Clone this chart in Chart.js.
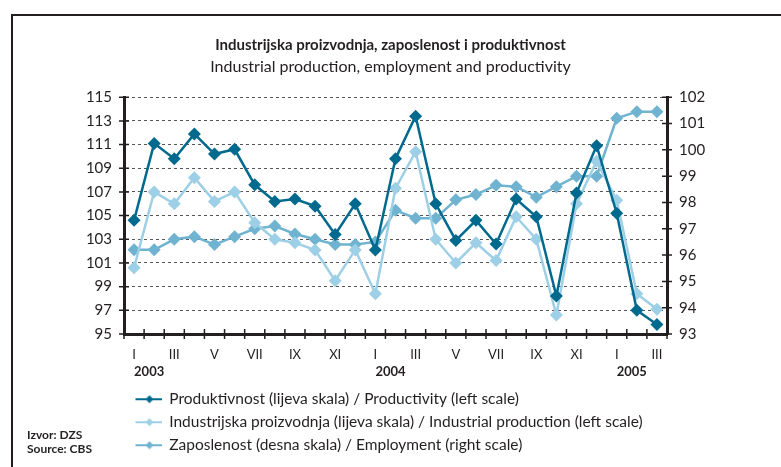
<!DOCTYPE html>
<html>
<head>
<meta charset="utf-8">
<script src="https://cdn.jsdelivr.net/npm/chart.js@4.4.1/dist/chart.umd.min.js"></script>
<style>
  body { margin: 0; background: #fff; }
  #wrap { position: relative; width: 781px; height: 467px; overflow: hidden; }
  #frame { position: absolute; left: 11px; top: 14px; width: 900px; height: 600px;
           border-left: 2.5px solid #231f20; border-top: 2.5px solid #231f20; }
  #src { position: absolute; left: 27px; top: 428px; font: bold 12px Lato, sans-serif;
         color: #231f20; line-height: 14px; }
  canvas { position: absolute; left: 0; top: 0; }
</style>
</head>
<body>
<div id="wrap">
  <div id="frame"></div>
  <canvas id="myChart" width="781" height="467"></canvas>
  <div id="src">Izvor: DZS<br>Source: CBS</div>
</div>
<script>
let months = ['I','II','III','IV','V','VI','VII','VIII','IX','X','XI','XII',
              'I','II','III','IV','V','VI','VII','VIII','IX','X','XI','XII',
              'I','II','III'];
let years = ['2003','','','','','','','','','','','',
             '2004','','','','','','','','','','','',
             '2005','',''];
let productivity = [104.6,111.1,109.8,111.9,110.2,110.6,107.6,106.2,106.4,105.8,103.4,106.0,
                    102.1,109.8,113.4,106.0,102.9,104.6,102.6,106.4,104.9,98.2,106.9,110.9,
                    105.2,97.0,95.8];
let production = [100.6,107.0,106.0,108.2,106.2,107.0,104.4,103.0,102.7,102.1,99.5,102.1,
                  98.4,107.3,110.4,103.0,101.0,102.7,101.2,104.9,103.0,96.6,106.0,109.6,
                  106.3,98.4,97.1];
let employment = [96.2,96.2,96.6,96.7,96.4,96.7,97.0,97.1,96.8,96.6,96.4,96.4,
                  96.5,97.7,97.4,97.4,98.1,98.3,98.65,98.6,98.2,98.6,99.0,99.0,
                  101.2,101.45,101.45];

let ink = '#231f20';
let Colors = ['#006a8e','#9dcfe6','#6fb3d1'];

function legendIcon(color){
  let c = document.createElement('canvas');
  c.width = 30; c.height = 12;
  let g = c.getContext('2d');
  g.strokeStyle = color; g.lineWidth = 2;
  g.beginPath(); g.moveTo(4,6); g.lineTo(30,6); g.stroke();
  g.fillStyle = color;
  g.beginPath(); g.moveTo(18,2); g.lineTo(22,6); g.lineTo(18,10); g.lineTo(14,6); g.closePath(); g.fill();
  return c;
}

let crossTicks = {
  id:'crossTicks',
  afterDraw(chart){
    let ctx = chart.ctx;
    let yl = chart.scales.yL, yr = chart.scales.yR, x = chart.scales.x;
    ctx.save();
    ctx.strokeStyle = ink; ctx.lineWidth = 1.5;
    ctx.beginPath();
    yl.ticks.forEach(t => { let p = yl.getPixelForValue(t.value); ctx.moveTo(yl.right-5,p); ctx.lineTo(yl.right+5,p); });
    yr.ticks.forEach(t => { let p = yr.getPixelForValue(t.value); ctx.moveTo(yr.left-5,p); ctx.lineTo(yr.left+5,p); });
    let step = x.getPixelForValue(1) - x.getPixelForValue(0);
    for (let i = 0; i <= months.length; i++) {
      let p = x.getPixelForValue(0) + (i - 0.5) * step;
      ctx.moveTo(p, x.top-5); ctx.lineTo(p, x.top+5);
    }
    ctx.stroke();
    ctx.restore();
  }
};

let names = ['Produktivnost (lijeva skala) / Productivity (left scale)',
             'Industrijska proizvodnja (lijeva skala) / Industrial production (left scale)',
             'Zaposlenost (desna skala) / Employment (right scale)'];

let myChart = document.getElementById('myChart').getContext('2d');
let chart = new Chart(myChart, {
  type:'line',
  data:{
    labels:months,
    datasets:[{
      label:names[0], data:productivity, yAxisID:'yL',
      borderColor:Colors[0], backgroundColor:Colors[0]
    },{
      label:names[1], data:production, yAxisID:'yL',
      borderColor:Colors[1], backgroundColor:Colors[1]
    },{
      label:names[2], data:employment, yAxisID:'yR',
      borderColor:Colors[2], backgroundColor:Colors[2]
    }]
  },
  options:{
    responsive:false,
    animation:false,
    layout:{ padding:{ top:36, bottom:4, left:0, right:0 } },
    elements:{
      line:{ borderWidth:2.5, tension:0 },
      point:{ pointStyle:'rectRot', radius:6.5, borderWidth:0, hoverRadius:6.5 }
    },
    plugins:{
      title:{
        display:true, text:'Industrijska proizvodnja, zaposlenost i produktivnost',
        color:ink, font:{ family:'Lato', size:15, weight:'bold' }, padding:{ top:0, bottom:3 }
      },
      subtitle:{
        display:true, text:'Industrial production, employment and productivity',
        color:ink, font:{ family:'Lato', size:16 }, padding:{ top:0, bottom:21 }
      },
      legend:{
        position:'bottom', align:'start', fullSize:false,
        labels:{
          color:ink, font:{ family:'Lato', size:15.5 }, padding:7.5,
          usePointStyle:true, pointStyleWidth:30,
          generateLabels(ch){
            return ch.data.datasets.map((d,i) => ({
              text:d.label, pointStyle:legendIcon(Colors[i]), fontColor:ink,
              lineWidth:0, strokeStyle:'transparent', fillStyle:'transparent', datasetIndex:i
            }));
          }
        }
      },
      tooltip:{ enabled:false }
    },
    scales:{
      x:{
        type:'category', offset:true, position:'bottom',
        grid:{ display:false, drawTicks:false },
        border:{ display:true, width:3, color:ink },
        ticks:{ color:ink, font:{ family:'Lato', size:13 }, autoSkip:false, maxRotation:0, padding:13,
          callback:(v,i) => i % 2 === 0 ? months[i] : '' },
        afterFit(s){ s.height = 30; }
      },
      x2:{
        type:'category', offset:true, position:'bottom', labels:years,
        grid:{ display:false, drawTicks:false }, border:{ display:false },
        ticks:{ color:ink, font:{ family:'Lato', size:13, weight:'bold' }, autoSkip:false, maxRotation:0,
          padding:0, align:'start' },
        afterFit(s){ s.height = 20; }
      },
      yL:{
        position:'left', min:95, max:115,
        ticks:{ stepSize:2, color:ink, font:{ family:'Lato', size:15 }, padding:12 },
        grid:{ drawTicks:false, lineWidth:1, color:c => c.tick && c.tick.value === 95 ? 'transparent' : '#555' },
        border:{ display:true, width:3, color:ink, dash:[3,3] },
        afterFit(s){ s.width = 124; }
      },
      yR:{
        position:'right', min:93, max:102,
        ticks:{ stepSize:1, color:ink, font:{ family:'Lato', size:15 }, padding:12 },
        grid:{ display:false, drawTicks:false },
        border:{ display:true, width:3, color:ink },
        afterFit(s){ s.width = 114; }
      }
    }
  },
  plugins:[crossTicks]
});
</script>
</body>
</html>
